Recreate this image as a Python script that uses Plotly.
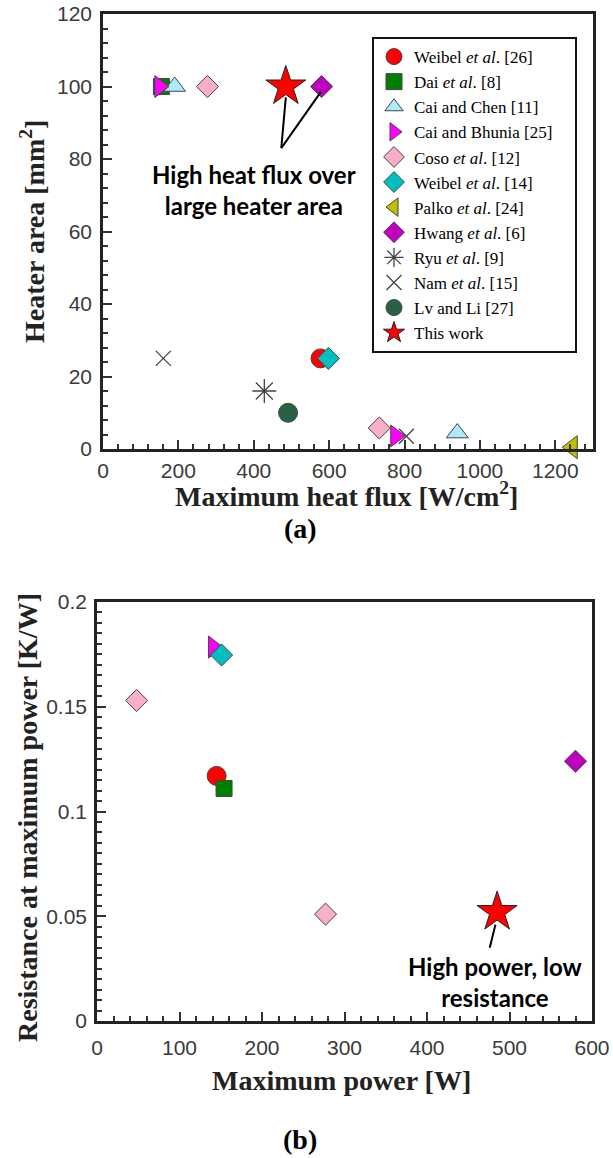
import plotly.graph_objects as go

# ---------------- data ----------------
# Panel (a): maximum heat flux [W/cm2] vs heater area [mm2]
names = ["Weibel <i>et al</i>. [26]", "Dai <i>et al</i>. [8]", "Cai and Chen [11]",
         "Cai and Bhunia [25]", "Coso <i>et al</i>. [12]", "Weibel <i>et al</i>. [14]",
         "Palko <i>et al</i>. [24]", "Hwang <i>et al</i>. [6]", "Ryu <i>et al</i>. [9]",
         "Nam <i>et al</i>. [15]", "Lv and Li [27]", "This work"]
keys = ["weibel26", "dai", "cai_chen", "cai_bhunia", "coso", "weibel14",
        "palko", "hwang", "ryu", "nam", "lv_li", "this_work"]

flux_a = {
    "weibel26": [577], "dai": [155], "cai_chen": [190, 940], "cai_bhunia": [150, 776],
    "coso": [277, 733], "weibel14": [598], "palko": [1245], "hwang": [580],
    "ryu": [428], "nam": [160, 805], "lv_li": [491], "this_work": [485],
}
area_a = {
    "weibel26": [25], "dai": [100], "cai_chen": [100, 4.4], "cai_bhunia": [100, 3.6],
    "coso": [100, 5.8], "weibel14": [25], "palko": [0.5], "hwang": [100],
    "ryu": [16], "nam": [25, 3.5], "lv_li": [10], "this_work": [100],
}

# Panel (b): maximum power [W] vs resistance at maximum power [K/W]
power_b = {
    "weibel26": [145], "dai": [154], "cai_bhunia": [141], "weibel14": [151],
    "coso": [48, 277], "hwang": [580], "this_work": [485],
}
resist_b = {
    "weibel26": [0.117], "dai": [0.111], "cai_bhunia": [0.1785], "weibel14": [0.1747],
    "coso": [0.153, 0.051], "hwang": [0.124], "this_work": [0.052],
}

# annotation anchors (data coords)
arrow_a_tail = (473, 83)
arrow_a_heads = [(485, 97), (578, 98.5)]
arrow_b_tail = (476, 0.035)
arrow_b_head = (483, 0.046)

# ---------------- styles ----------------
OUT = "#444444"
style = {
    "weibel26": dict(symbol="circle", color="#FF0000", size=19, line=dict(color=OUT, width=1)),
    "dai": dict(symbol="square", color="#008000", size=16, line=dict(color=OUT, width=1)),
    "cai_chen": dict(symbol="triangle-up", color="#AEEBFA", size=19, line=dict(color=OUT, width=1)),
    "cai_bhunia": dict(symbol="triangle-right", color="#FF00FF", size=19, line=dict(color=OUT, width=1)),
    "coso": dict(symbol="diamond", color="#F9B0C6", size=17, line=dict(color=OUT, width=1)),
    "weibel14": dict(symbol="diamond", color="#00BFBF", size=17, line=dict(color=OUT, width=1)),
    "palko": dict(symbol="triangle-left", color="#BFBF00", size=20, line=dict(color=OUT, width=1)),
    "hwang": dict(symbol="diamond", color="#BF00BF", size=17, line=dict(color=OUT, width=1)),
    "ryu": dict(symbol="asterisk-open", color="#444444", size=20, line=dict(color="#444444", width=1.3)),
    "nam": dict(symbol="x-thin-open", color="#444444", size=15, line=dict(color="#444444", width=1.3)),
    "lv_li": dict(symbol="circle", color="#2A6046", size=19, line=dict(color=OUT, width=1)),
    "this_work": dict(symbol="star", color="#FF0000", size=30, line=dict(color="#222222", width=1)),
}

draw_order = ["weibel26", "dai", "coso", "cai_chen", "cai_bhunia", "weibel14",
              "palko", "hwang", "ryu", "nam", "lv_li", "this_work"]

fig = go.Figure()

PAD = "&nbsp;" * 4
for k in draw_order:
    i = keys.index(k)
    fig.add_trace(go.Scatter(
        x=flux_a[k], y=area_a[k], mode="markers", name=names[i] + PAD,
        marker=style[k], legendrank=i + 1, legendgroup=k, cliponaxis=False,
        xaxis="x", yaxis="y"))

for k in draw_order:
    if k in power_b:
        fig.add_trace(go.Scatter(
            x=power_b[k], y=resist_b[k], mode="markers", name=names[keys.index(k)],
            marker=style[k], showlegend=False, legendgroup=k, cliponaxis=False,
            xaxis="x2", yaxis="y2"))

W, H = 613, 1158
def px(x):
    return x / W
def py(y):
    return 1 - y / H

axis_common = dict(
    showline=True, linecolor="#222222", linewidth=2.5, mirror=True,
    ticks="inside", ticklen=9, tickwidth=2, tickcolor="#333333",
    showgrid=False, zeroline=False, automargin=False,
    tickfont=dict(family="Liberation Sans", size=21, color="#3a3a3a"),
)

fig.update_layout(
    width=W, height=H, margin=dict(l=0, r=0, t=0, b=0, pad=0, autoexpand=False),
    paper_bgcolor="white", plot_bgcolor="white",
    showlegend=True,
    legend=dict(x=px(372), y=py(37), xanchor="left", yanchor="top",
                bordercolor="#111111", borderwidth=2, bgcolor="white",
                font=dict(family="Liberation Serif", size=17, color="black"),
                tracegroupgap=0, itemclick=False),
    xaxis=dict(domain=[px(103), px(593)], range=[0, 1300], dtick=200, anchor="y",
               ticklabelstandoff=1,
               minor=dict(ticks="inside", ticklen=5, dtick=40, tickwidth=1.5, tickcolor="#333333"),
               **axis_common),
    yaxis=dict(domain=[py(449), py(14)], range=[0, 120], dtick=20, anchor="x",
               ticklabelstandoff=4,
               minor=dict(ticks="inside", ticklen=5, dtick=4, tickwidth=1.5, tickcolor="#333333"),
               **axis_common),
    xaxis2=dict(domain=[px(97), px(592)], range=[0, 600], dtick=100, anchor="y2",
                ticklabelstandoff=6,
                minor=dict(ticks="inside", ticklen=5, dtick=20, tickwidth=1.5, tickcolor="#333333"),
                **axis_common),
    yaxis2=dict(domain=[py(1021), py(602)], range=[0, 0.2], dtick=0.05, anchor="x2",
                tickformat="~g", ticklabelstandoff=3,
                minor=dict(ticks="inside", ticklen=5, dtick=0.005, tickwidth=1.5, tickcolor="#333333"),
                **axis_common),
)

# arrows / lines
for hx, hy in arrow_a_heads:
    fig.add_shape(type="line", xref="x", yref="y", x0=arrow_a_tail[0], y0=arrow_a_tail[1],
                  x1=hx, y1=hy, line=dict(color="black", width=2))
fig.add_shape(type="line", xref="x2", yref="y2", x0=arrow_b_tail[0], y0=arrow_b_tail[1],
              x1=arrow_b_head[0], y1=arrow_b_head[1], line=dict(color="black", width=2))

serif_b = dict(family="Liberation Serif", size=28, color="#222222")
ann_font = dict(family="Lato", size=24, color="black")

annots = [
    dict(text="<b>High heat flux over<br>large heater area</b>", x=px(254), y=py(190), font=ann_font),
    dict(text="<b>High power, low<br>resistance</b>", x=px(495), y=py(982), font=ann_font),
    dict(text="<b>Maximum heat flux [W/cm<sup>2</sup>]</b>", x=px(346), y=py(494), font=serif_b),
    dict(text="<b>Heater area [mm<sup>2</sup>]</b>", x=px(33), y=py(232), font=serif_b, textangle=-90),
    dict(text="<b>(a)</b>", x=px(300), y=py(528), font=dict(family="Liberation Serif", size=28, color="black")),
    dict(text="<b>Maximum power [W]</b>", x=px(341), y=py(1080), font=serif_b),
    dict(text="<b>Resistance at maximum power [K/W]</b>", x=px(27), y=py(818), font=serif_b, textangle=-90),
    dict(text="<b>(b)</b>", x=px(300), y=py(1139), font=dict(family="Liberation Serif", size=28, color="black")),
]
for a in annots:
    fig.add_annotation(xref="paper", yref="paper", showarrow=False,
                       xanchor="center", yanchor="middle", **a)

fig.write_html("out.html", config={"displayModeBar": False},
               post_script="document.body.style.margin='0';document.body.style.overflow='hidden';")
